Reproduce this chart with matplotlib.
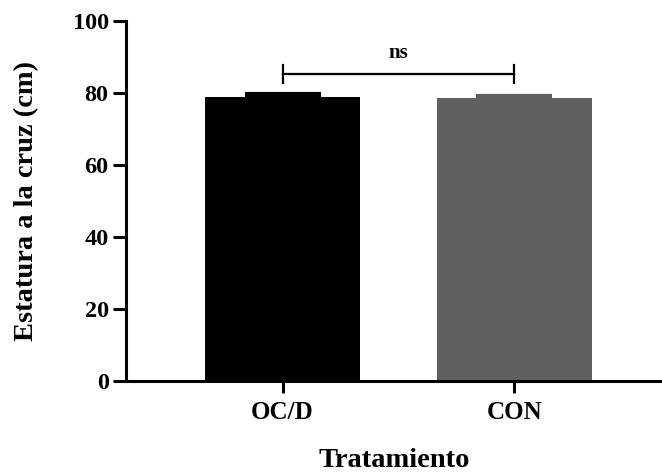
import matplotlib
matplotlib.use("Agg")
import matplotlib.pyplot as plt

categories = ["OC/D", "CON"]
means = [78.9, 78.6]
sem = [0.9, 0.7]
colors = ["#000000", "#606060"]
yticks = [0, 20, 40, 60, 80, 100]
sig_label = "ns"
sig_y = 85.3

plt.rcParams['font.family'] = ['Liberation Serif', 'DejaVu Serif']
plt.rcParams['font.weight'] = 'bold'

fig = plt.figure(figsize=(6.62, 4.73), dpi=100)
ax = fig.add_axes([126/662, 1-381/473, 1-126/662, (381-21)/473])

x = list(range(len(categories)))
ax.bar(x, means, width=0.668, color=colors, zorder=2)
for xi, m, e, c in zip(x, means, sem, colors):
    ax.errorbar([xi], [m], yerr=[[0], [e]], fmt='none', ecolor=c,
                elinewidth=2, capsize=27.7, capthick=3, zorder=3)

# significance bracket
ax.plot([x[0], x[1]], [sig_y, sig_y], color='black', lw=1.6, clip_on=False)
for xi in x:
    ax.plot([xi, xi], [sig_y - 2.5, sig_y + 2.5], color='black', lw=1.6, clip_on=False)
ax.text((x[0]+x[1])/2, sig_y + 3.0, sig_label, ha='center', va='bottom',
        fontsize=15, fontweight='bold')

ax.set_xlim(-0.675, 1.636)
ax.set_ylim(0, 100)
ax.set_yticks(yticks)
ax.set_yticklabels([str(t) for t in yticks], fontsize=17.5, fontweight='bold')
ax.set_xticks(x)
ax.set_xticklabels(categories, fontsize=18, fontweight='bold')
ax.set_xlabel("Tratamiento", fontsize=20.5, fontweight='bold', labelpad=17)
ax.set_ylabel("Estatura a la cruz (cm)", fontsize=20.5, fontweight='bold', labelpad=24)

for s in ['top', 'right']:
    ax.spines[s].set_visible(False)
for s in ['left', 'bottom']:
    ax.spines[s].set_linewidth(2.2)
ax.tick_params(axis='y', width=2.2, length=9.5, pad=3)
ax.tick_params(axis='x', width=2.2, length=8.5, pad=6)

fig.savefig("out.png", dpi=100)
